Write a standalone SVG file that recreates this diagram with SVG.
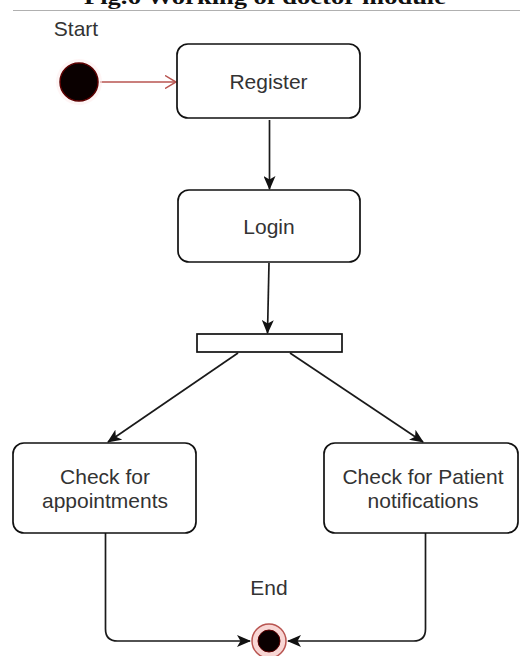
<svg xmlns="http://www.w3.org/2000/svg" width="520" height="656" viewBox="0 0 520 656">
  <style>
    .box { fill: #ffffff; stroke: #111111; stroke-width: 1.7; }
    .lbl { font-family: "Liberation Sans", Arial, sans-serif; font-size: 21px; fill: #333333; text-anchor: middle; }
    .edge { fill: none; stroke: #1a1a1a; stroke-width: 1.7; }
    .title { font-family: "Liberation Serif", "Times New Roman", serif; font-size: 22px; font-weight: bold; fill: #111111; text-anchor: middle; }
  </style>
  <defs>
    <marker id="arr" viewBox="0 0 14 12" refX="13" refY="6" markerWidth="14" markerHeight="12" markerUnits="userSpaceOnUse" orient="auto">
      <path d="M0,0 L14,6 L0,12 L3.5,6 Z" fill="#111111"/>
    </marker>
    <marker id="open" viewBox="0 0 12 14" refX="11" refY="7" markerWidth="12" markerHeight="14" markerUnits="userSpaceOnUse" orient="auto">
      <path d="M0,0.5 L11,7 L0,13.5" fill="none" stroke="#b85450" stroke-width="1.5"/>
    </marker>
  </defs>

  <rect width="520" height="656" fill="#ffffff"/>

  <g id="title">
    <text class="title" x="265" y="4" textLength="362" lengthAdjust="spacingAndGlyphs">Fig.6 Working of doctor module</text>
    <line x1="13" y1="10.5" x2="520" y2="10.5" stroke="#b0b0b0" stroke-width="1.2"/>
  </g>

  <g id="connectors">
    <line x1="100" y1="82" x2="176" y2="82" stroke="#b85450" stroke-width="1.3" marker-end="url(#open)"/>
    <line class="edge" x1="269.5" y1="120" x2="269.5" y2="189" marker-end="url(#arr)"/>
    <line class="edge" x1="269" y1="263" x2="267.5" y2="333" marker-end="url(#arr)"/>
    <line class="edge" x1="238" y1="353" x2="108" y2="442" marker-end="url(#arr)"/>
    <line class="edge" x1="290" y1="353" x2="423" y2="442" marker-end="url(#arr)"/>
    <path class="edge" d="M105.5,533 L105.5,629 Q105.5,641 117.5,641 L250,641" marker-end="url(#arr)"/>
    <path class="edge" d="M425.5,533 L425.5,629 Q425.5,641 413.5,641 L288,641" marker-end="url(#arr)"/>
  </g>

  <g id="start">
    <text class="lbl" x="76" y="36">Start</text>
    <circle cx="79" cy="82" r="23" fill="#fdeeee" opacity="0.6"/>
    <circle cx="79" cy="82" r="19" fill="#0a0000" stroke="#5c0000" stroke-width="1.5"/>
  </g>

  <g id="register">
    <rect class="box" x="177" y="44" width="183" height="74" rx="11"/>
    <text class="lbl" x="268.5" y="89">Register</text>
  </g>

  <g id="login">
    <rect class="box" x="178" y="190" width="182" height="72" rx="11"/>
    <text class="lbl" x="269" y="234">Login</text>
  </g>

  <g id="fork">
    <rect x="197" y="334" width="145" height="18" fill="#ffffff" stroke="#111111" stroke-width="1.7"/>
  </g>

  <g id="appointments">
    <rect class="box" x="13" y="443" width="183" height="90" rx="11"/>
    <text class="lbl" x="105" y="484">Check for</text>
    <text class="lbl" x="105" y="508">appointments</text>
  </g>

  <g id="notifications">
    <rect class="box" x="324" y="443" width="194" height="90" rx="11"/>
    <text class="lbl" x="423" y="484">Check for Patient</text>
    <text class="lbl" x="423" y="508">notifications</text>
  </g>

  <g id="end">
    <text class="lbl" x="269" y="595">End</text>
    <circle cx="269" cy="641" r="17" fill="#f8d6d4" stroke="#b85450" stroke-width="1.5"/>
    <circle cx="269" cy="641" r="11" fill="#0a0000" stroke="#5c0000" stroke-width="1"/>
  </g>
</svg>
